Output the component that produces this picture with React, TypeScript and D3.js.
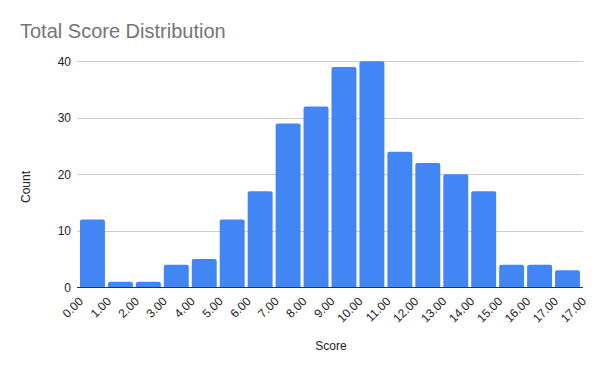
import React from "react";
import * as d3 from "d3";

const counts = [12, 1, 1, 4, 5, 12, 17, 29, 32, 39, 40, 24, 22, 20, 17, 4, 4, 3];
const xTickLabels = [
  "0.00", "1.00", "2.00", "3.00", "4.00", "5.00", "6.00", "7.00", "8.00", "9.00",
  "10.00", "11.00", "12.00", "13.00", "14.00", "15.00", "16.00", "17.00", "17.00",
];
const yTicks = [0, 10, 20, 30, 40];
const title = "Total Score Distribution";
const xTitle = "Score";
const yTitle = "Count";

const W = 600;
const H = 371;
const left = 80;
const right = 583;
const top = 61.3;
const bottom = 287.3;
const font = "'Liberation Sans', Arial, sans-serif";

function barPath(x: number, y: number, w: number, h: number, r: number) {
  const rr = Math.min(r, h / 2, w / 2);
  return `M${x},${y + h}V${y + rr}Q${x},${y} ${x + rr},${y}H${x + w - rr}Q${x + w},${y} ${x + w},${y + rr}V${y + h}Z`;
}

export default function App() {
  const idx = counts.map((_, i) => i);
  const xBand = d3.scaleBand<number>().domain(idx).range([left, right]).paddingInner(0).paddingOuter(0);
  const step = xBand.step();
  const gap = 3;
  const y = d3.scaleLinear().domain([0, 40]).range([bottom, top]);
  const tickX = d3.scaleLinear().domain([0, counts.length]).range([left, right]);

  return (
    <svg width={W} height={H} style={{ position: "absolute", left: 0, top: 0, background: "#fff" }}>
      <rect x={0} y={0} width={W} height={H} fill="#fff" />
      <text x={20} y={38} fontFamily={font} fontSize={20} fill="#757575">{title}</text>
      {yTicks.map((t) => (
        <g key={t}>
          {t !== 0 && (
            <line x1={77} x2={right} y1={Math.round(y(t)) + 0.5} y2={Math.round(y(t)) + 0.5} stroke="#cccccc" strokeWidth={1} />
          )}
          <text x={71} y={y(t) + 4.5} textAnchor="end" fontFamily={font} fontSize={12} fill="#222">{t}</text>
        </g>
      ))}
      {counts.map((c, i) => {
        const x0 = xBand(i)!;
        const y0 = y(c);
        return <path key={i} d={barPath(x0, y0, step - gap, bottom - y0, 2)} fill="#4285f4" />;
      })}
      <line x1={77} x2={right} y1={Math.round(bottom) + 0.5} y2={Math.round(bottom) + 0.5} stroke="#333" strokeWidth={1} />
      {xTickLabels.map((l, i) => {
        const tx = tickX(i) + 4;
        const ty = 302;
        return (
          <text key={i} x={tx} y={ty} textAnchor="end" fontFamily={font} fontSize={12} fill="#222"
            transform={`rotate(-45 ${tx} ${ty})`}>{l}</text>
        );
      })}
      <text x={331} y={350} textAnchor="middle" fontFamily={font} fontSize={12} fill="#222">{xTitle}</text>
      <text transform={`translate(29.5 ${187}) rotate(-90)`} textAnchor="middle" fontFamily={font} fontSize={12} fill="#222">{yTitle}</text>
    </svg>
  );
}
